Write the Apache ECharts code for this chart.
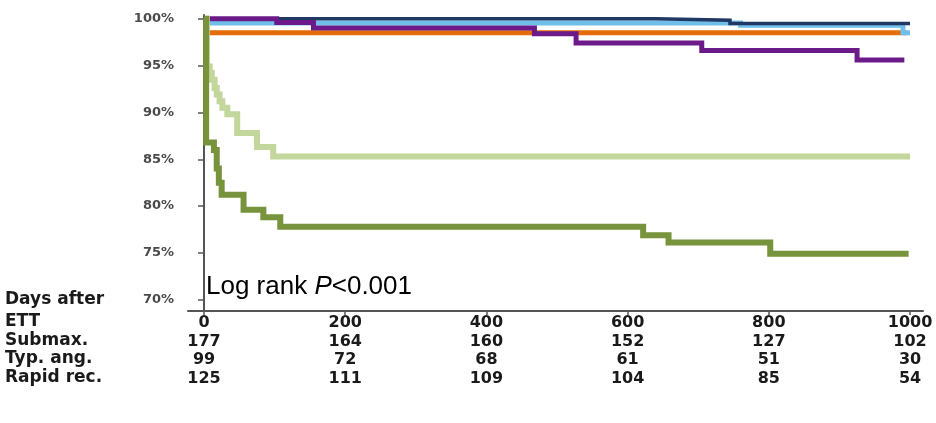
<!DOCTYPE html>
<html>
<head>
<meta charset="utf-8">
<script src="https://cdn.jsdelivr.net/npm/echarts@6/dist/echarts.min.js"></script>
<style>
html,body{margin:0;padding:0;background:#fff;}
#chart{width:936px;height:423px;}
</style>
</head>
<body>
<div id="chart"></div>
<script>
// ---- data ----
const xTicks = [0, 200, 400, 600, 800, 1000];
const yTicks = [70, 75, 80, 85, 90, 95, 100];
const rowLabels = ['Days after', 'ETT', 'Submax.', 'Typ. ang.', 'Rapid rec.'];
const atRiskSubmax = [177, 164, 160, 152, 127, 102];
const atRiskTypAng = [99, 72, 68, 61, 51, 30];
const atRiskRapidRec = [125, 111, 109, 104, 85, 54];

const navyDays = [0, 640, 745, 1000];
const navySurv = [100, 99.85, 99.5, 99.5];
const blueDays = [0, 5, 760, 990, 1000];
const blueSurv = [100, 99.55, 99.3, 98.5, 98.5];
const orangeDays = [0, 3, 995];
const orangeSurv = [100, 98.5, 98.5];
const purpleDays = [0, 103, 155, 468, 527, 705, 925, 992];
const purpleSurv = [100, 99.6, 99.0, 98.4, 97.4, 96.6, 95.6, 95.6];
const lightGreenDays = [0, 4, 8, 11, 15, 18, 22, 26, 33, 47, 75, 98, 1000];
const lightGreenSurv = [100, 94.9, 94.2, 93.5, 92.6, 91.9, 91.2, 90.5, 89.8, 87.8, 86.3, 85.3, 85.3];
const darkGreenDays = [0, 3, 14, 18, 21, 25, 56, 84, 108, 622, 658, 802, 998];
const darkGreenSurv = [100, 86.8, 86.0, 84.0, 82.5, 81.2, 79.6, 78.8, 77.8, 76.9, 76.1, 74.9, 74.9];

const zip = (a, b) => a.map((v, i) => [v, b[i]]);

const chart = echarts.init(document.getElementById('chart'), null, {renderer: 'canvas'});

function km(name, days, surv, color, width) {
  return {
    name, type: 'line', step: 'end', showSymbol: false, symbol: 'none',
    data: zip(days, surv),
    lineStyle: {color, width, join: 'miter'},
    emphasis: {disabled: true},
    silent: true, animation: false
  };
}

const labelFont = 'DejaVu Sans';
const rowFont = 'bold 17px "DejaVu Sans"';

chart.setOption({
  animation: false,
  backgroundColor: '#ffffff',
  grid: {left: 188, right: 13, top: 15, bottom: 112, containLabel: false},
  xAxis: {
    type: 'value', min: -22.7, max: 1018.4,
    splitLine: {show: false},
    axisLine: {show: true, lineStyle: {color: '#555', width: 2}},
    axisTick: {show: true, customValues: xTicks, length: 4, lineStyle: {color: '#555', width: 1.5}},
    axisLabel: {
      customValues: xTicks,
      margin: 3,
      formatter: (v) => {
        const i = xTicks.indexOf(v);
        return [v, atRiskSubmax[i], atRiskTypAng[i], atRiskRapidRec[i]].join('\n');
      },
      fontFamily: labelFont, fontSize: 16, fontWeight: 'bold', color: '#1a1a1a',
      lineHeight: 18.5, align: 'center'
    }
  },
  yAxis: {
    type: 'value', min: 68.8, max: 100.4,
    splitLine: {show: false},
    axisLine: {show: true, lineStyle: {color: '#555', width: 2}},
    axisTick: {show: true, customValues: yTicks, length: 6, lineStyle: {color: '#555', width: 1.5}},
    axisLabel: {
      customValues: yTicks, margin: 14,
      formatter: (v) => v + '%',
      fontFamily: labelFont, fontSize: 13, fontWeight: 'bold', color: '#4a4a4a'
    }
  },
  series: [
    km('Orange group', orangeDays, orangeSurv, '#e46c0a', 5),
    km('Light blue group', blueDays, blueSurv, '#6fbfe9', 5),
    km('Navy group', navyDays, navySurv, '#1f3864', 3.5),
    km('Purple group', purpleDays, purpleSurv, '#6c1a8a', 5),
    km('Light green group', lightGreenDays, lightGreenSurv, '#c3d69b', 6),
    km('Dark green group', darkGreenDays, darkGreenSurv, '#77933c', 6)
  ],
  graphic: [
    {type: 'text', x: 5, y: 300, style: {text: rowLabels[0], font: rowFont, fill: '#1a1a1a', verticalAlign: 'middle'}},
    {type: 'text', x: 5, y: 322, style: {text: rowLabels[1], font: rowFont, fill: '#1a1a1a', verticalAlign: 'middle'}},
    {type: 'text', x: 5, y: 340.5, style: {text: rowLabels[2], font: rowFont, fill: '#1a1a1a', verticalAlign: 'middle'}},
    {type: 'text', x: 5, y: 359, style: {text: rowLabels[3], font: rowFont, fill: '#1a1a1a', verticalAlign: 'middle'}},
    {type: 'text', x: 5, y: 377.5, style: {text: rowLabels[4], font: rowFont, fill: '#1a1a1a', verticalAlign: 'middle'}},
    {type: 'text', x: 206, y: 287, style: {
      text: '{n|Log rank }{i|P}{n|<0.001}',
      verticalAlign: 'middle',
      rich: {
        n: {fontFamily: 'Liberation Sans', fontSize: 26, color: '#2a2a2a'},
        i: {fontFamily: 'Liberation Sans', fontSize: 26, fontStyle: 'italic', color: '#2a2a2a'}
      }
    }}
  ]
});
</script>
</body>
</html>
